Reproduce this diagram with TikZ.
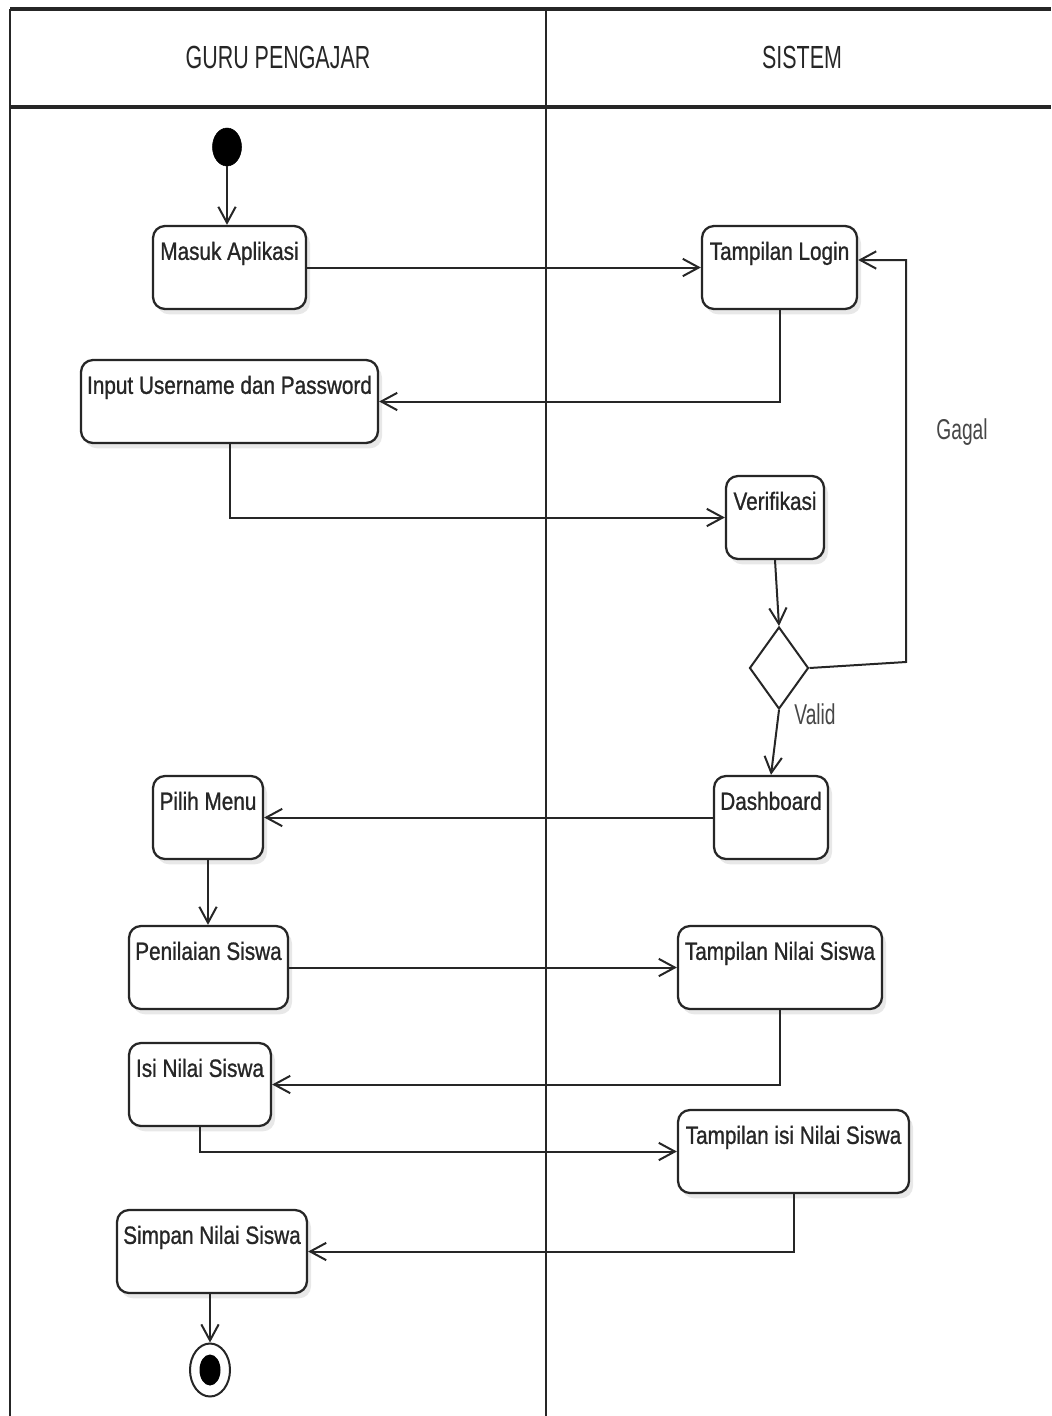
\documentclass[tikz,border=0pt]{standalone}
\usepackage{fontspec}
\setmainfont{Liberation Sans}
\newfontfamily\condfont{Liberation Sans}[FakeStretch=0.67]
\newfontfamily\actfont{Liberation Sans}[FakeStretch=0.83,FakeBold=0.9]
\usetikzlibrary{arrows.meta,shapes.geometric,shadows}
\definecolor{ink}{HTML}{262626}
\tikzset{
  actbox/.style 2 args={draw=ink, line width=1.7pt, rounded corners=9pt, fill=white,
    minimum width=#1*0.75pt, minimum height=#2*0.75pt, inner sep=0pt,
    drop shadow={shadow xshift=3pt, shadow yshift=-4pt, opacity=0.18, fill=gray}},
  acttext/.style={anchor=base, yshift=-26.25pt, inner sep=0pt, text=ink,
    font=\actfont\fontsize{18.75}{22}\selectfont},
  lanetext/.style={text=ink, font=\condfont\fontsize{24}{28}\selectfont},
  guardtext/.style={text=ink!85, font=\condfont\fontsize{21.5}{25}\selectfont},
  arr/.style={draw=ink, line width=1.5pt, -{Straight Barb[length=12pt,width=13pt,line width=1.5pt]}},
  frameline/.style={draw=ink, line width=2pt},
  startnode/.style={ellipse, fill=black, draw=black, minimum width=29*0.75pt, minimum height=38*0.75pt, inner sep=0pt},
  endnode/.style={ellipse, fill=white, draw=ink, line width=1.5pt, minimum width=40*0.75pt, minimum height=53*0.75pt, inner sep=0pt},
  decision/.style={diamond, draw=ink, line width=1.5pt, fill=white, minimum width=59*0.75pt, minimum height=82*0.75pt, inner sep=0pt}
}
\begin{document}
\begin{tikzpicture}[x=0.75pt,y=-0.75pt]
\useasboundingbox (0,0) rectangle (1051,1416);
% swimlane frame
\draw[frameline, line width=2.4pt] (10,9) -- (1051,9);
\draw[frameline, line width=2.4pt] (10,107) -- (1051,107);
\draw[frameline] (10,9) -- (10,1416);
\draw[frameline] (546,9) -- (546,1416);
\node[lanetext] (laneA) at (278,57) {GURU PENGAJAR};
\node[lanetext] (laneB) at (802,57) {SISTEM};

% nodes
\node[startnode] (start) at (227,147) {};
\node[actbox={153}{83}, label={[acttext]north:Masuk Aplikasi}] (masuk) at (229.5,267.5) {};
\node[actbox={155}{83}, label={[acttext]north:Tampilan Login}] (login) at (779.5,267.5) {};
\node[actbox={297}{83}, label={[acttext]north:Input Username dan Password}] (input) at (229.5,401.5) {};
\node[actbox={98}{83}, label={[acttext]north:Verifikasi}] (verif) at (775,517.5) {};
\node[decision] (dec) at (779,668) {};
\node[actbox={114}{83}, label={[acttext]north:Dashboard}] (dash) at (771,817.5) {};
\node[actbox={110}{83}, label={[acttext]north:Pilih Menu}] (pilih) at (208,817.5) {};
\node[actbox={159}{83}, label={[acttext]north:Penilaian Siswa}] (nilai) at (208.5,967.5) {};
\node[actbox={204}{83}, label={[acttext]north:Tampilan Nilai Siswa}] (tnilai) at (780,967.5) {};
\node[actbox={142}{83}, label={[acttext]north:Isi Nilai Siswa}] (isi) at (200,1084.5) {};
\node[actbox={231}{83}, label={[acttext]north:Tampilan isi Nilai Siswa}] (tisi) at (793.5,1151.5) {};
\node[actbox={190}{83}, label={[acttext]north:Simpan Nilai Siswa}] (simpan) at (212,1251.5) {};
\node[endnode] (endn) at (210,1370) {};
\node[ellipse, fill=black, minimum width=21*0.75pt, minimum height=31*0.75pt, inner sep=0pt] (endcore) at (endn.center) {};

% guard labels
\node[guardtext] (gagal) at (962,432) {Gagal};
\node[guardtext] (valid) at (815,714) {Valid};

% connectors
\coordinate (g1) at (906,662);
\coordinate (g2) at (906,260);
\draw[arr] (start) -- (masuk.north -| start);
\draw[arr] (masuk.east) -- (login.west);
\draw[arr] (login.south) |- (input.east);
\draw[arr] (input.south) |- (verif.west);
\draw[arr] (verif.south) -- (dec.north);
\draw[arr] (dec.east) -- (g1) -- (g2) -- (login.east |- g2);
\draw[arr] (dec.south) -- (dash.north);
\draw[arr] (dash.west) -- (pilih.east);
\draw[arr] (pilih.south) -- (nilai.north -| pilih.south);
\draw[arr] (nilai.east) -- (tnilai.west);
\draw[arr] (tnilai.south) |- (isi.east);
\draw[arr] (isi.south) |- (tisi.west);
\draw[arr] (tisi.south) |- (simpan.east);
\draw[arr] (simpan.south -| endn) -- (endn.north);
\end{tikzpicture}
\end{document}
